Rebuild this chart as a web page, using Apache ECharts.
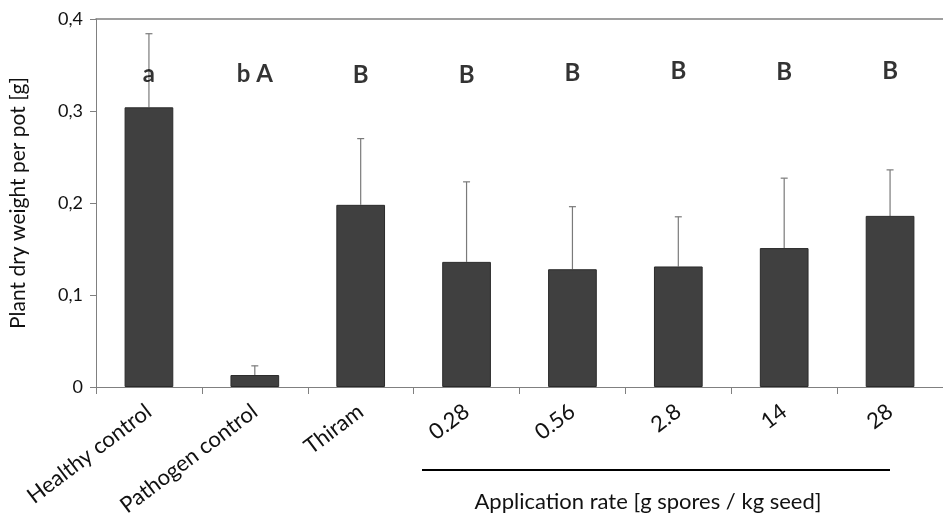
<!DOCTYPE html>
<html><head><meta charset="utf-8">
<script src="https://cdn.jsdelivr.net/npm/echarts@6/dist/echarts.min.js"></script>
<style>html,body{margin:0;padding:0;background:#fff}#c{width:943px;height:519px}</style>
</head><body><div id="c"></div>
<script>
const categories = ['Healthy control','Pathogen control','Thiram','0.28','0.56','2.8','14','28'];
const means = [0.304, 0.013, 0.198, 0.136, 0.128, 0.131, 0.151, 0.186];
const errorTops = [0.384, 0.023, 0.270, 0.223, 0.196, 0.185, 0.227, 0.236];
const letters = ['a', 'b A', 'B', 'B', 'B', 'B', 'B', 'B'];
const letterLevel = [0.340, 0.340, 0.339, 0.339, 0.341, 0.343, 0.342, 0.343];
const yTickLabels = {'0':'0','0.1':'0,1','0.2':'0,2','0.3':'0,3','0.4':'0,4'};

const FONT = 'Lato, "Open Sans", sans-serif';
const chart = echarts.init(document.getElementById('c'), null, {renderer:'canvas'});
chart.setOption({
  animation:false,
  grid:{left:90, right:-4, top:19, bottom:132, containLabel:false},
  xAxis:[{
    type:'category', data:categories, position:'bottom',
    axisLine:{lineStyle:{color:'#808080', width:1}},
    axisTick:{show:true, alignWithLabel:false, length:7, lineStyle:{color:'#808080'}},
    axisLabel:{rotate:37, fontSize:22, color:'#111', fontFamily:FONT, margin:22, interval:0}
  },{
    type:'category', data:categories, position:'top',
    axisLine:{lineStyle:{color:'#808080', width:1.5}},
    axisTick:{show:false}, axisLabel:{show:false}
  }],
  yAxis:{
    type:'value', min:0, max:0.4, interval:0.1,
    name:'Plant dry weight per pot [g]', nameLocation:'middle', nameGap:67,
    nameTextStyle:{fontSize:21, color:'#111', fontFamily:FONT},
    axisLine:{show:true, lineStyle:{color:'#808080'}},
    axisTick:{show:true, length:6, lineStyle:{color:'#808080'}},
    splitLine:{show:false},
    axisLabel:{fontSize:18, color:'#111', fontFamily:FONT, margin:13,
      formatter:v=>yTickLabels[String(Math.round(v*10)/10)] ?? String(v)}
  },
  series:[{
    type:'bar', data:means, barWidth:'46%',
    itemStyle:{color:'#404040', borderColor:'#2a2a2a', borderWidth:1}
  },{
    type:'custom',
    data:categories.map((c,i)=>[i, means[i], errorTops[i]]),
    renderItem:(params, api)=>{
      const base = api.coord([api.value(0), api.value(1)]);
      const top = api.coord([api.value(0), api.value(2)]);
      const x = base[0];
      return {type:'group', children:[
        {type:'line', shape:{x1:x, y1:base[1], x2:x, y2:top[1]}, style:{stroke:'#7a7a7a', lineWidth:1.2}},
        {type:'line', shape:{x1:x-3.5, y1:top[1], x2:x+3.5, y2:top[1]}, style:{stroke:'#7a7a7a', lineWidth:1.2}}
      ]};
    },
    z:1
  },{
    type:'scatter', symbolSize:0,
    data:categories.map((c,i)=>[i, letterLevel[i]]),
    label:{show:true, position:'inside', formatter:p=>letters[p.dataIndex],
      fontSize:24, fontWeight:'bold', color:'#000', fontFamily:FONT}
  }],
  graphic:[
    {type:'line', shape:{x1:422, y1:470, x2:890, y2:470}, style:{stroke:'#000', lineWidth:2}},
    {type:'text', style:{text:'Application rate [g spores / kg seed]', x:648, y:502, align:'center', verticalAlign:'middle', fontSize:22, fill:'#111', fontFamily:FONT}}
  ]
});
</script></body></html>
